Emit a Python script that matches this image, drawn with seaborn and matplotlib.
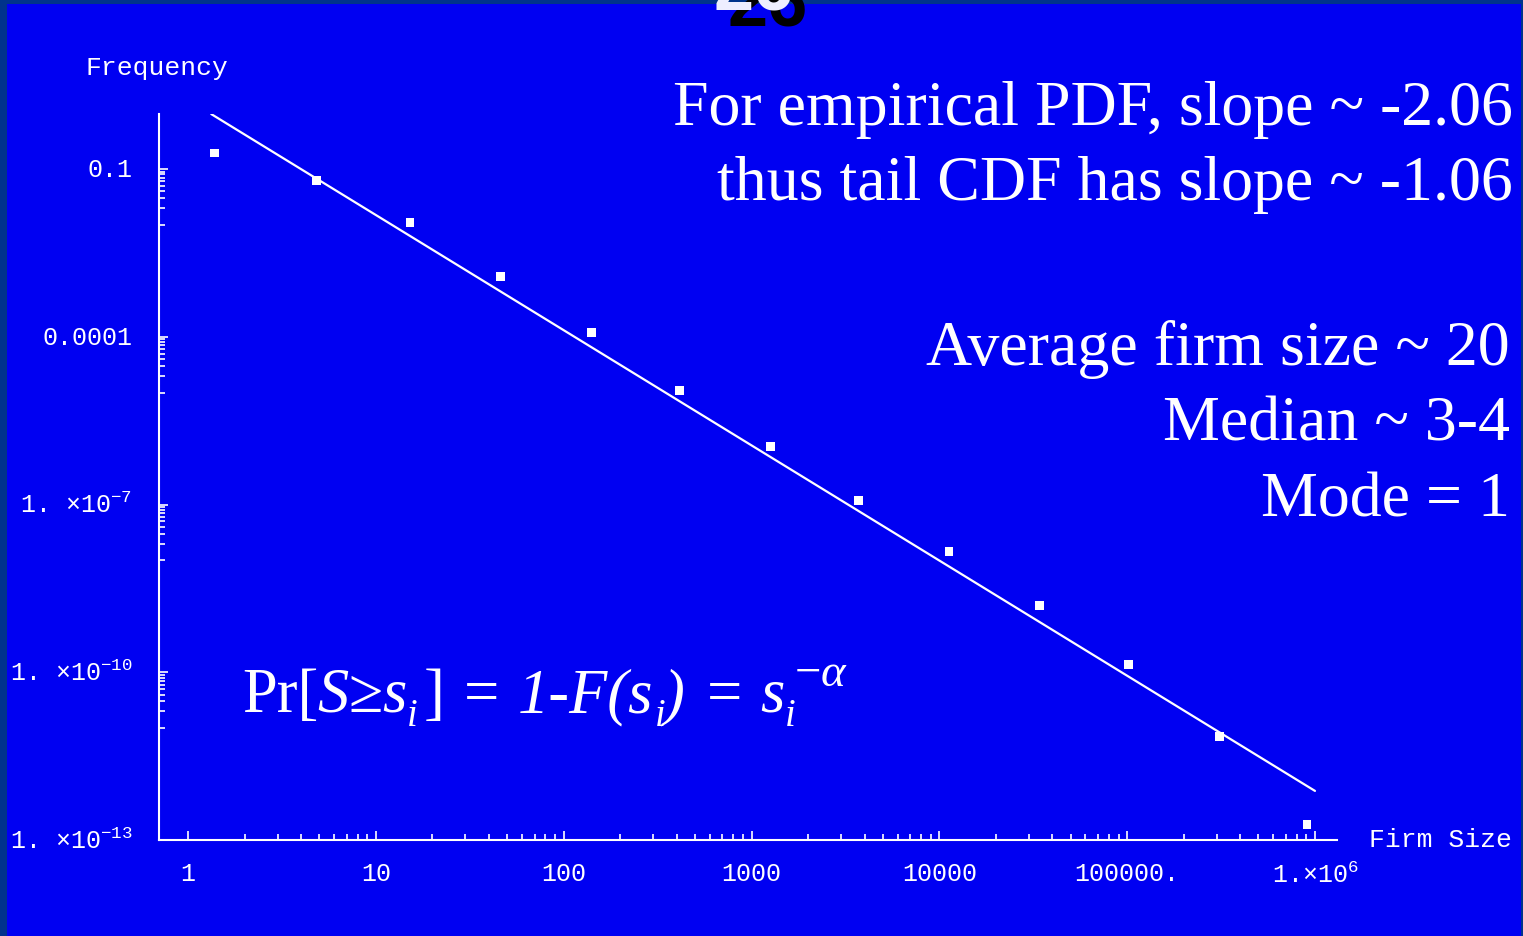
import numpy as np
import pandas as pd
import matplotlib
matplotlib.use("Agg")
import matplotlib.pyplot as plt
import seaborn as sns
from matplotlib.ticker import FixedLocator, FixedFormatter, NullFormatter
from matplotlib.patches import Rectangle

# Binned empirical distribution of firm sizes (log-log)
firm_size = [1.39, 4.82, 15.2, 46.0, 140, 413, 1262, 3707,
             11270, 34280, 101200, 309000, 906000]
frequency = [0.193, 0.0634, 0.0109, 1.19e-3, 1.18e-4, 1.11e-5, 1.08e-6,
             1.18e-7, 1.44e-8, 1.58e-9, 1.39e-10, 7.03e-12, 1.91e-13]

# Power-law fit: frequency = fit_amp * size ** pdf_slope
pdf_slope = -2.06
fit_amp = 1.73
fit_x = [1.33, 1.0e6]

x_ticks = [1, 10, 100, 1000, 10000, 100000, 1000000]
x_tick_labels = ["1", "10", "100", "1000", "10000", "100000.",
                 r"1.×10$^{\mathregular{6}}$"]
y_ticks = [1e-1, 1e-4, 1e-7, 1e-10, 1e-13]
y_tick_labels = ["0.1", "0.0001", r"1. ×10$^{\mathregular{-7}}$",
                 r"1. ×10$^{\mathregular{-10}}$", r"1. ×10$^{\mathregular{-13}}$"]

notes_top = ["For empirical PDF, slope ~ -2.06",
             "thus tail CDF has slope ~ -1.06"]
notes_mid = ["Average firm size ~ 20", "Median ~ 3-4", "Mode = 1"]

# Formula as styled runs: (text, style, scale, rise in em, gap before in em)
formula_runs = [
    ("Pr[", "normal", 1.0, 0.0, 0.0),
    ("S", "italic", 1.0, 0.0, -0.02),
    ("≥", "normal", 1.0, 0.0, 0.0),
    ("s", "italic", 1.0, 0.0, 0.0),
    ("i", "italic", 0.62, -0.22, 0.0),
    ("]", "normal", 1.0, 0.0, 0.1),
    ("=", "normal", 1.0, 0.0, 0.3),
    ("1-F(s", "italic", 1.0, 0.0, 0.3),
    ("i", "italic", 0.62, -0.22, 0.02),
    (")", "italic", 1.0, 0.0, -0.02),
    ("=", "normal", 1.0, 0.0, 0.35),
    ("s", "italic", 1.0, 0.0, 0.3),
    ("i", "italic", 0.62, -0.22, 0.0),
    ("\u2212", "normal", 0.75, 0.42, -0.02),
    ("α", "italic", 0.75, 0.42, 0.0),
]

BLUE = "#0000F2"
BORDER = "#00338C"
W, H = 1523, 937

sns.set_theme(style="ticks", rc={
    "axes.facecolor": BLUE,
    "figure.facecolor": BLUE,
    "savefig.facecolor": BLUE,
    "axes.edgecolor": "white",
    "xtick.color": "white",
    "ytick.color": "white",
    "text.color": "white",
})
plt.rcParams["font.family"] = ["Liberation Mono", "DejaVu Sans Mono"]

fig = plt.figure(figsize=(W / 100, H / 100), dpi=100)


def fx(px):
    return px / W


def fy(py):
    return 1 - py / H


ax = fig.add_axes([fx(158.7), fy(841), (1337 - 158.7) / W, (841 - 115) / H])

fit_y = [fit_amp * v ** pdf_slope for v in fit_x]
df_pts = pd.DataFrame({"size": firm_size, "freq": frequency})
df_fit = pd.DataFrame({"size": fit_x, "freq": fit_y})

sns.lineplot(data=df_fit, x="size", y="freq", ax=ax, color="white",
             linewidth=1.6, zorder=2)
sns.scatterplot(data=df_pts, x="size", y="freq", ax=ax, marker="s", s=40,
                color="white", edgecolor="none", linewidth=0, zorder=3)

ax.set_xscale("log")
ax.set_yscale("log")
ax.set_xlim(0.698, 1.31e6)
ax.set_ylim(1e-13, 0.965)
ax.set_xlabel("")
ax.set_ylabel("")

for side in ("top", "right"):
    ax.spines[side].set_visible(False)
for side in ("left", "bottom"):
    ax.spines[side].set_color("white")
    ax.spines[side].set_linewidth(1.5)

ax.xaxis.set_major_locator(FixedLocator(x_ticks))
ax.xaxis.set_major_formatter(FixedFormatter(x_tick_labels))
x_minor = [m * 10.0 ** k for k in range(0, 6) for m in range(2, 10)]
ax.xaxis.set_minor_locator(FixedLocator(x_minor))
ax.xaxis.set_minor_formatter(NullFormatter())

ax.yaxis.set_major_locator(FixedLocator(y_ticks))
ax.yaxis.set_major_formatter(FixedFormatter(y_tick_labels))
y_minor = [m * 10.0 ** (k - 1) for k in (-1, -4, -7, -10) for m in range(1, 10)]
ax.yaxis.set_minor_locator(FixedLocator(y_minor))
ax.yaxis.set_minor_formatter(NullFormatter())

ax.tick_params(axis="x", which="major", direction="in", length=6.3, width=1.2,
               pad=15, labelsize=18, labelcolor="white", color="white")
ax.tick_params(axis="x", which="minor", direction="in", length=4.1, width=1.2,
               color="white")
ax.tick_params(axis="y", which="major", direction="in", length=6.5, width=1.2,
               pad=19, labelsize=18, labelcolor="white", color="white")
ax.tick_params(axis="y", which="minor", direction="in", length=4.3, width=1.2,
               color="white")
for lbl in ax.get_yticklabels():
    lbl.set_verticalalignment("center")

# Axis captions in the plotting font
fig.text(fx(85), fy(68), "Frequency", fontsize=19, color="white",
         ha="left", va="center")
fig.text(fx(1369), fy(840), "Firm Size", fontsize=19, color="white",
         ha="left", va="center")

# Annotations
serif = ["Liberation Serif", "DejaVu Serif"]
for text, base in zip(notes_top, (125, 200)):
    fig.text(fx(1513), fy(base), text, fontsize=46, family=serif,
             color="white", ha="right", va="baseline")
for text, base in zip(notes_mid, (365, 441, 517)):
    fig.text(fx(1510), fy(base), text, fontsize=46, family=serif,
             color="white", ha="right", va="baseline")

# Formula, laid out run by run
renderer = fig.canvas.get_renderer()
f_size = 45.0
em = f_size * 100 / 72
x_cur, base_y = 242.0, 712.0
for text, style, scale, rise, gap in formula_runs:
    x_cur += gap * em
    t = fig.text(fx(x_cur), fy(base_y - rise * em), text,
                 fontsize=f_size * scale, fontstyle=style, family=serif,
                 color="white", ha="left", va="baseline")
    x_cur += t.get_window_extent(renderer).width

# Slide frame and page number
fig.patches.append(Rectangle((0, 0), fx(7), 1, transform=fig.transFigure,
                             facecolor=BORDER, edgecolor="none", zorder=0))
fig.patches.append(Rectangle((0, fy(5)), 1, 5 / H, transform=fig.transFigure,
                             facecolor=BORDER, edgecolor="none", zorder=0))
fig.patches.append(Rectangle((fx(1521), 0), fx(2), 1, transform=fig.transFigure,
                             facecolor=BORDER, edgecolor="none", zorder=0))
fig.text(fx(728), fy(26), "26", fontsize=52, fontweight="bold",
         family=["Liberation Sans", "DejaVu Sans"], color="black",
         ha="left", va="baseline", zorder=5)
fig.text(fx(713), fy(10), "26", fontsize=52, fontweight="bold",
         family=["Liberation Sans", "DejaVu Sans"], color="#EEEEFF",
         ha="left", va="baseline", zorder=6)

fig.savefig("out.png", dpi=100, facecolor=BLUE)
